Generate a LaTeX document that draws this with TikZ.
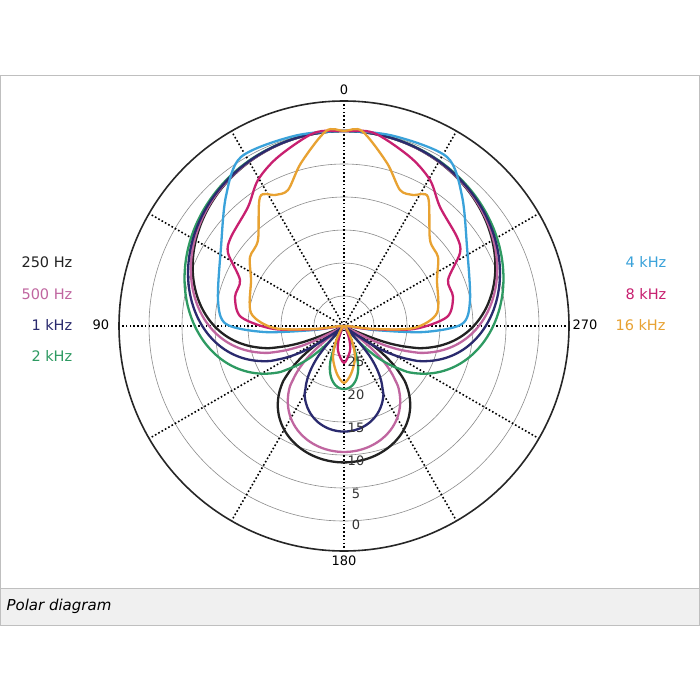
\documentclass[tikz,border=0pt]{standalone}
\usepackage{fontspec}
\setmainfont{DejaVu Sans}
\usetikzlibrary{positioning}

\definecolor{hzA}{HTML}{222222}
\definecolor{hzB}{HTML}{C066A0}
\definecolor{hzC}{HTML}{2A2A6E}
\definecolor{hzD}{HTML}{2E9A62}
\definecolor{hzE}{HTML}{3AA2DA}
\definecolor{hzF}{HTML}{C82070}
\definecolor{hzG}{HTML}{E8A232}

% polar response: cardioid mix #1 at angle #2, in px from the centre
\pgfmathdeclarefunction{resp}{2}{%
  \pgfmathparse{195+6.6*max(8.686*ln(max(abs(#1+(1-#1)*cos(#2)),0.001)),-29)}}

\tikzset{
  ring/.style={black!45, line width=0.6pt},
  spoke/.style={black, dash pattern=on 1.6pt off 2.2pt, line width=1.6pt},
  curve/.style={line width=2.3pt, line join=round},
  key/.style={font=\fontsize{14.5}{14.5}\selectfont, anchor=west},
  dblab/.style={font=\fontsize{13}{13}\selectfont, text=black!80},
  deglab/.style={font=\fontsize{13}{13}\selectfont},
}

\begin{document}
\begin{tikzpicture}[x=1pt,y=-1pt]
\useasboundingbox (0,0) rectangle (700,700);
\fill[white] (0,0) rectangle (700,700);
\draw[black!25] (0.5,75) rectangle (699.5,625);
\fill[black!6] (1,588) rectangle (699,624.5);
\draw[black!25] (1,588) -- (699,588);
\node[font=\fontsize{15}{15}\selectfont\itshape, anchor=west] (caption) at (3,606) {Polar diagram};

\begin{scope}[shift={(344,326)}]
  % grid
  \foreach \r in {30,63,96,129,162,195}
    \draw[ring] (0,0) circle (\r);
  \foreach \a in {0,30,...,330}
    \draw[spoke] (0,0) -- (\a:225);
  \draw[black!85, line width=1.6pt] (0,0) circle (225);

  % low frequencies
  \draw[curve, hzA] plot[domain=0:360, samples=241, smooth, variable=\t]
    ({-90-\t}:{resp(0.32,\t)});
  \draw[curve, hzB] plot[domain=0:360, samples=241, smooth, variable=\t]
    ({-90-\t}:{resp(0.35,\t)});
  \draw[curve, hzD] plot[domain=0:360, samples=241, smooth, variable=\t]
    ({-90-\t}:{resp(0.45,\t)});
  \draw[curve, hzC] plot[domain=0:360, samples=241, smooth, variable=\t]
    ({-90-\t}:{resp(0.395,\t)});

  % high frequencies
  \draw[curve, hzE] plot[smooth cycle] coordinates {
    (0,-195) (50,-190) (103,-169) (118,-130) (123,-79) (126,-26) (118,-2) (80,6) (30,4) (0,0)
    (-30,4) (-80,6) (-118,-2) (-126,-26) (-123,-79) (-118,-130) (-103,-169) (-50,-190)};
  \draw[curve, hzF] plot[smooth cycle] coordinates {
    (0,-195) (30,-193) (66,-169) (86,-146) (96,-119) (113,-89) (116,-73) (104,-46)
    (109,-29) (103,-9) (70,3) (25,3) (0,0) (-25,3) (-70,3) (-103,-9) (-109,-29)
    (-104,-46) (-116,-73) (-113,-89) (-96,-119) (-86,-146) (-66,-169) (-30,-193)};
  \draw[curve, hzF] plot[smooth cycle] coordinates {
    (0,0) (5,12) (6,25) (0,37) (-6,25) (-5,12)};
  \draw[curve, hzG] plot[smooth cycle] coordinates {
    (0,-195) (18,-195) (43,-163) (56,-136) (69,-131) (84,-129) (86,-86) (94,-69)
    (93,-46) (93,-13) (70,2) (30,3) (0,0) (-30,3) (-70,2) (-93,-13) (-93,-46)
    (-94,-69) (-86,-86) (-84,-129) (-69,-131) (-56,-136) (-43,-163) (-18,-195)};
  \draw[curve, hzG] plot[smooth cycle] coordinates {
    (0,0) (8,15) (11,32) (7,48) (0,57) (-7,48) (-11,32) (-8,15)};

  % dB scale
  \foreach \r/\v in {36/25,69/20,102/15,135/10,168/5,199/0}
    \node[dblab] (db\v) at (12,\r) {\v};
\end{scope}

\node[deglab] (deg0) at (344,90) {0};
\node[deglab] (deg180) at (344,561) {180};
\node[deglab] (deg90) at (101,325) {90};
\node[deglab] (deg270) at (585,325) {270};

\node[key, text=hzA] (k250) at (18,262) {250 Hz};
\node[key, text=hzB] (k500) at (18,294) {500 Hz};
\node[key, text=hzC] (k1k) at (28,325) {1 kHz};
\node[key, text=hzD] (k2k) at (28,356) {2 kHz};
\node[key, text=hzE] (k4k) at (622,262) {4 kHz};
\node[key, text=hzF] (k8k) at (622,294) {8 kHz};
\node[key, text=hzG] (k16k) at (612,325) {16 kHz};
\end{tikzpicture}
\end{document}
